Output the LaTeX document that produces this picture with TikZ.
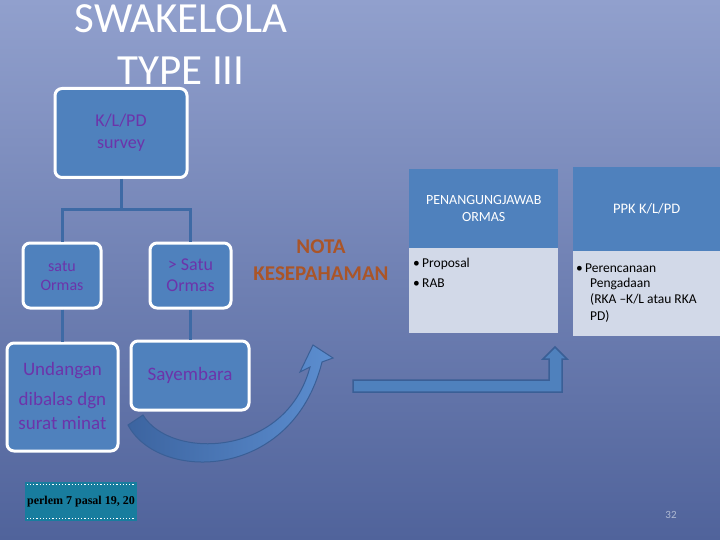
\documentclass[tikz,border=0pt]{standalone}
\usepackage{fontspec}
\setmainfont{Carlito}
\newfontfamily\timesf{Liberation Serif}
\definecolor{boxblue}{RGB}{79,129,189}
\definecolor{txtpurple}{RGB}{108,52,170}
\definecolor{connblue}{RGB}{62,106,165}
\definecolor{bodyfill}{RGB}{210,217,232}
\definecolor{notaor}{RGB}{170,85,40}
\definecolor{tealbox}{RGB}{24,125,158}
\definecolor{bgtop}{RGB}{145,160,205}
\definecolor{bgbot}{RGB}{80,99,155}
\definecolor{arrline}{RGB}{58,95,150}
\definecolor{arrdark}{RGB}{60,100,160}
\definecolor{arrlight}{RGB}{92,142,208}
\definecolor{pagenum}{RGB}{175,185,210}
\tikzset{
  orgbox/.style={draw=white, line width=3pt, fill=boxblue, rounded corners=7pt,
    text=txtpurple, align=center, inner sep=0pt},
  conn/.style={draw=connblue, line width=3pt},
  hdr/.style={fill=boxblue, text=white, align=center, inner sep=0pt, font=\fontsize{14}{16.5}\selectfont},
  body/.style={fill=bodyfill, inner sep=0pt},
  bodytxt/.style={text=black, anchor=west, inner sep=0pt, font=\fontsize{13.5}{16}\selectfont},
}
\begin{document}
\begin{tikzpicture}[x=1pt,y=-1pt]
\useasboundingbox (0,0) rectangle (720,540);
\shade[top color=bgtop, bottom color=bgbot] (0,0) rectangle (720,540);

% title
\node[text=white, font=\fontsize{43}{48}\selectfont] (t1) at (181,19) {SWAKELOLA};
\node[text=white, font=\fontsize{43}{48}\selectfont] (t2) at (181,71) {TYPE III};

% org chart boxes
\node[orgbox, minimum width=132pt, minimum height=89pt, font=\fontsize{18}{22}\selectfont] (kl) at (121,133) {K/L/PD\\survey};
\node[orgbox, minimum width=78pt, minimum height=65pt, font=\fontsize{16}{19}\selectfont] (so) at (62,275.5) {satu\\Ormas};
\node[orgbox, minimum width=81pt, minimum height=65pt, font=\fontsize{18}{21}\selectfont] (mo) at (190.5,275.5) {> Satu\\Ormas};
\node[orgbox, minimum width=111pt, minimum height=108pt] (ud) at (62.5,397) {};
\node[text=txtpurple, font=\fontsize{19}{22}\selectfont] (ud1) at (62.5,371) {Undangan};
\node[text=txtpurple, font=\fontsize{19}{22}\selectfont] (ud2) at (62.5,401) {dibalas dgn};
\node[text=txtpurple, font=\fontsize{19}{22}\selectfont] (ud3) at (62.5,423) {surat minat};
\node[orgbox, minimum width=118pt, minimum height=69pt, font=\fontsize{19}{22}\selectfont] (sy) at (190,375.5) {Sayembara};

% connectors
\coordinate (bar) at (121,210);
\draw[conn] (kl.south) -- (kl.south |- bar);
\draw[conn] (so.north) |- (bar) -| (mo.north);
\draw[conn] (so.south) -- (so.south |- ud.north);
\draw[conn] (mo.south) -- (mo.south |- sy.north);

% NOTA KESEPAHAMAN
\node[text=notaor, align=center, font=\bfseries\fontsize{21}{27}\selectfont] (nota) at (321,260) {NOTA\\KESEPAHAMAN};

% table 1
\node[hdr, minimum width=149pt, minimum height=79pt, anchor=north west] (h1) at (409,169) {PENANGUNGJAWAB\\ORMAS};
\node[body, minimum width=149pt, minimum height=85pt, anchor=north west] (b1) at (409,248) {};
\node[bodytxt] (p1) at (413,264) {\textbullet\,Proposal};
\node[bodytxt] (p2) at (413,283) {\textbullet\,RAB};

% table 2
\node[hdr, minimum width=147pt, minimum height=84pt, anchor=north west, font=\fontsize{14.5}{17}\selectfont] (h2) at (573,167) {PPK K/L/PD};
\node[body, minimum width=147pt, minimum height=85pt, anchor=north west] (b2) at (573,251) {};
\node[bodytxt] (q1) at (576,268) {\textbullet\,Perencanaan};
\node[bodytxt] (q2) at (590,284) {Pengadaan};
\node[bodytxt] (q3) at (590,300) {(RKA --K/L atau RKA};
\node[bodytxt] (q4) at (590,316) {PD)};

% bent arrow
\draw[fill=boxblue, draw=arrline, line width=1.5pt, line join=miter]
  (353,380) -- (549,380) -- (549,359) -- (543,359) -- (555,347) -- (567,359)
  -- (562,359) -- (562,392) -- (353,392) -- cycle;

% curved arrow
\shade[left color=arrdark, right color=arrlight, draw=arrline, line width=1pt]
  (128,425) .. controls (158,482) and (292,482) .. (322,362)
  -- (333,358) -- (313,345) -- (300,372) -- (310,367)
  .. controls (286,458) and (170,460) .. (143,415) -- cycle;

% perlem box
\node[fill=tealbox, minimum width=112pt, minimum height=39pt, inner sep=0pt,
  font=\timesf\bfseries\fontsize{12}{14}\selectfont, text=black] (pl) at (81,501.5) {perlem 7 pasal 19, 20};
\draw[white, line width=1.2pt, dotted] ([xshift=2pt,yshift=-3pt]pl.north west) -- ([xshift=-2pt,yshift=-3pt]pl.north east);
\draw[white, line width=1.2pt, dotted] ([xshift=2pt,yshift=3pt]pl.south west) -- ([xshift=-2pt,yshift=3pt]pl.south east);

% page number
\node[text=pagenum, font=\fontsize{11}{13}\selectfont] (pg) at (671,515) {32};
\end{tikzpicture}
\end{document}
